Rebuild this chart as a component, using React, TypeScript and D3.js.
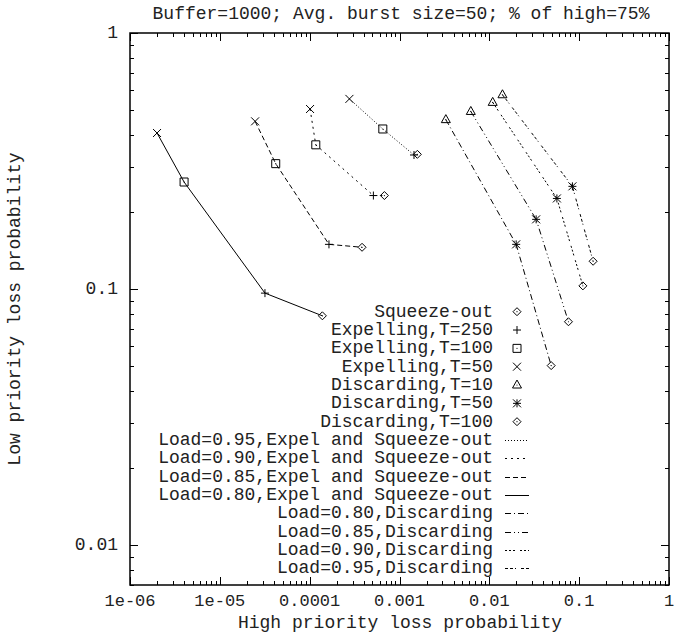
import React, { useRef, useEffect } from "react";
import * as d3 from "d3";

// values, one entry per load (0.80, 0.85, 0.90, 0.95)
const loads = ["0.80", "0.85", "0.90", "0.95"];

const expelT50High = [2.0e-6, 2.47e-5, 1.01e-4, 2.77e-4];
const expelT50Low = [0.407, 0.452, 0.505, 0.553];
const expelT100High = [4.0e-6, 4.19e-5, 1.17e-4, 6.52e-4];
const expelT100Low = [0.262, 0.309, 0.366, 0.422];
const expelT250High = [3.18e-5, 1.64e-4, 5.12e-4, 1.45e-3];
const expelT250Low = [0.0965, 0.1496, 0.232, 0.334];
const squeezeHigh = [1.385e-4, 3.83e-4, 6.79e-4, 1.58e-3];
const squeezeLow = [0.0787, 0.1457, 0.232, 0.336];

const discT10High = [3.28e-3, 6.22e-3, 1.09e-2, 1.4e-2];
const discT10Low = [0.459, 0.494, 0.536, 0.574];
const discT50High = [0.0199, 0.0332, 0.0565, 0.0841];
const discT50Low = [0.1496, 0.1873, 0.226, 0.252];
const discT100High = [0.0488, 0.076, 0.11, 0.143];
const discT100Low = [0.0503, 0.0746, 0.103, 0.1285];

const xTickLabels = ["1e-06", "1e-05", "0.0001", "0.001", "0.01", "0.1", "1"];
const yTickLabels = ["0.01", "0.1", "1"];

const expelDash: Record<string, string> = {
  "0.95": "1,2",
  "0.90": "2,4",
  "0.85": "5,3",
  "0.80": "none",
};
const discDash: Record<string, string> = {
  "0.80": "6,3,1,3",
  "0.85": "6,3,1,3,1,3",
  "0.90": "2,2,2,2,2,5",
  "0.95": "3,2,3,2,1,5",
};

const FONT = "'Liberation Mono', 'DejaVu Sans Mono', monospace";
const FS = 18;

type Marker = "diamond" | "plus" | "square" | "cross" | "triangle" | "star";

const legendRows: { label: string; marker?: Marker; dash?: string }[] = [
  { label: "Squeeze-out", marker: "diamond" },
  { label: "Expelling,T=250", marker: "plus" },
  { label: "Expelling,T=100", marker: "square" },
  { label: "Expelling,T=50", marker: "cross" },
  { label: "Discarding,T=10", marker: "triangle" },
  { label: "Discarding,T=50", marker: "star" },
  { label: "Discarding,T=100", marker: "diamond" },
  { label: "Load=0.95,Expel and Squeeze-out", dash: expelDash["0.95"] },
  { label: "Load=0.90,Expel and Squeeze-out", dash: expelDash["0.90"] },
  { label: "Load=0.85,Expel and Squeeze-out", dash: expelDash["0.85"] },
  { label: "Load=0.80,Expel and Squeeze-out", dash: expelDash["0.80"] },
  { label: "Load=0.80,Discarding", dash: discDash["0.80"] },
  { label: "Load=0.85,Discarding", dash: discDash["0.85"] },
  { label: "Load=0.90,Discarding", dash: discDash["0.90"] },
  { label: "Load=0.95,Discarding", dash: discDash["0.95"] },
];

const drawMarker = (g: any, type: Marker, cx: number, cy: number) => {
  const s = 4;
  let d = "";
  let dot = false;
  if (type === "plus") d = `M${cx - s},${cy}H${cx + s}M${cx},${cy - s}V${cy + s}`;
  if (type === "cross")
    d = `M${cx - s},${cy - s}L${cx + s},${cy + s}M${cx - s},${cy + s}L${cx + s},${cy - s}`;
  if (type === "star")
    d =
      `M${cx - s},${cy}H${cx + s}M${cx},${cy - s}V${cy + s}` +
      `M${cx - s},${cy - s}L${cx + s},${cy + s}M${cx - s},${cy + s}L${cx + s},${cy - s}`;
  if (type === "square") {
    d = `M${cx - s},${cy - s}H${cx + s}V${cy + s}H${cx - s}Z`;
    dot = true;
  }
  if (type === "diamond") {
    d = `M${cx},${cy - s}L${cx + s},${cy}L${cx},${cy + s}L${cx - s},${cy}Z`;
    dot = true;
  }
  if (type === "triangle") {
    d = `M${cx},${cy - s - 1}L${cx + s + 0.5},${cy + s - 1}L${cx - s - 0.5},${cy + s - 1}Z`;
    dot = true;
  }
  g.append("path")
    .attr("d", d)
    .attr("fill", "none")
    .attr("stroke", "#000")
    .attr("stroke-width", 1);
  if (dot) g.append("circle").attr("cx", cx).attr("cy", cy).attr("r", 0.6).attr("fill", "#000");
};

const App = () => {
  const svgRef = useRef<SVGSVGElement>(null);
  const width = 678;
  const height = 634;

  useEffect(() => {
    document.body.style.margin = "0";
    const svg = d3.select(svgRef.current);
    svg.selectAll("*").remove();

    const left = 130;
    const right = 669;
    const top = 33;
    const bottom = 585;

    const x = d3.scaleLog().domain([1e-6, 1]).range([left, right]);
    const y = d3.scaleLog().domain([0.007, 1]).range([bottom, top]);

    svg.append("rect").attr("width", width).attr("height", height).attr("fill", "#fff");

    // ticks (inside on all four sides)
    const tg = svg.append("g").attr("stroke", "#000").attr("stroke-width", 1);
    const xMajor = d3.range(-6, 1).map((e) => Math.pow(10, e));
    const xMinor: number[] = [];
    xMajor.slice(0, -1).forEach((v) => d3.range(2, 10).forEach((m) => xMinor.push(v * m)));
    const yMajor = [0.01, 0.1, 1];
    const yMinor: number[] = [0.007, 0.008, 0.009];
    [0.01, 0.1].forEach((v) => d3.range(2, 10).forEach((m) => yMinor.push(v * m)));

    const tick = (vals: number[], len: number) => {
      vals.forEach((v) => {
        const px = Math.round(x(v)) + 0.5;
        tg.append("line").attr("x1", px).attr("x2", px).attr("y1", bottom).attr("y2", bottom - len);
        tg.append("line").attr("x1", px).attr("x2", px).attr("y1", top).attr("y2", top + len);
      });
    };
    tick(xMajor, 8);
    tick(xMinor, 4);
    const ytick = (vals: number[], len: number) => {
      vals.forEach((v) => {
        const py = Math.round(y(v)) + 0.5;
        tg.append("line").attr("x1", left).attr("x2", left + len).attr("y1", py).attr("y2", py);
        tg.append("line").attr("x1", right).attr("x2", right - len).attr("y1", py).attr("y2", py);
      });
    };
    ytick(yMajor, 8);
    ytick(yMinor, 4);

    // frame
    svg
      .append("rect")
      .attr("x", left)
      .attr("y", top)
      .attr("width", right - left)
      .attr("height", bottom - top)
      .attr("fill", "none")
      .attr("stroke", "#000")
      .attr("stroke-width", 1.5);

    const text = svg.append("g").attr("font-family", FONT).attr("font-size", FS).attr("fill", "#222");

    xMajor.forEach((v, i) => {
      text
        .append("text")
        .attr("x", x(v))
        .attr("y", 606)
        .attr("font-size", 17)
        .attr("text-anchor", "middle")
        .text(xTickLabels[i]);
    });
    yMajor.forEach((v, i) => {
      text
        .append("text")
        .attr("x", 118)
        .attr("y", y(v) + 5)
        .attr("text-anchor", "end")
        .text(yTickLabels[i]);
    });

    text
      .append("text")
      .attr("x", 401)
      .attr("y", 19)
      .attr("text-anchor", "middle")
      .text("Buffer=1000; Avg. burst size=50; % of high=75%");
    text
      .append("text")
      .attr("x", 400)
      .attr("y", 628)
      .attr("text-anchor", "middle")
      .text("High priority loss probability");
    text
      .append("text")
      .attr("transform", `translate(20,${(top + bottom) / 2}) rotate(-90)`)
      .attr("text-anchor", "middle")
      .text("Low priority loss probability");

    const line = d3
      .line<[number, number]>()
      .x((d) => x(d[0]))
      .y((d) => y(d[1]));

    const plot = svg.append("g");

    // Expel and Squeeze-out curves
    loads.forEach((load, i) => {
      const pts: [number, number][] = [
        [expelT50High[i], expelT50Low[i]],
        [expelT100High[i], expelT100Low[i]],
        [expelT250High[i], expelT250Low[i]],
        [squeezeHigh[i], squeezeLow[i]],
      ];
      plot
        .append("path")
        .datum(pts)
        .attr("d", line)
        .attr("fill", "none")
        .attr("stroke", "#000")
        .attr("stroke-width", 1)
        .attr("stroke-dasharray", expelDash[load]);
      drawMarker(plot, "cross", x(pts[0][0]), y(pts[0][1]));
      drawMarker(plot, "square", x(pts[1][0]), y(pts[1][1]));
      drawMarker(plot, "plus", x(pts[2][0]), y(pts[2][1]));
      drawMarker(plot, "diamond", x(pts[3][0]), y(pts[3][1]));
    });

    // Discarding curves
    loads.forEach((load, i) => {
      const pts: [number, number][] = [
        [discT10High[i], discT10Low[i]],
        [discT50High[i], discT50Low[i]],
        [discT100High[i], discT100Low[i]],
      ];
      plot
        .append("path")
        .datum(pts)
        .attr("d", line)
        .attr("fill", "none")
        .attr("stroke", "#000")
        .attr("stroke-width", 1)
        .attr("stroke-dasharray", discDash[load]);
      drawMarker(plot, "triangle", x(pts[0][0]), y(pts[0][1]));
      drawMarker(plot, "star", x(pts[1][0]), y(pts[1][1]));
      drawMarker(plot, "diamond", x(pts[2][0]), y(pts[2][1]));
    });

    // legend
    const lg = svg.append("g");
    legendRows.forEach((row, i) => {
      const cy = 311.7 + i * 18.33;
      lg.append("text")
        .attr("x", 493)
        .attr("y", cy + 5)
        .attr("text-anchor", "end")
        .attr("font-family", FONT)
        .attr("font-size", FS)
        .attr("fill", "#222")
        .text(row.label);
      if (row.marker) drawMarker(lg, row.marker, 517, cy);
      if (row.dash) {
        lg.append("line")
          .attr("x1", 505)
          .attr("x2", 529)
          .attr("y1", Math.round(cy) + 0.5)
          .attr("y2", Math.round(cy) + 0.5)
          .attr("stroke", "#000")
          .attr("stroke-width", 1)
          .attr("stroke-dasharray", row.dash);
      }
    });
  }, []);

  return <svg ref={svgRef} width={width} height={height} style={{ display: "block" }} />;
};

export default App;
